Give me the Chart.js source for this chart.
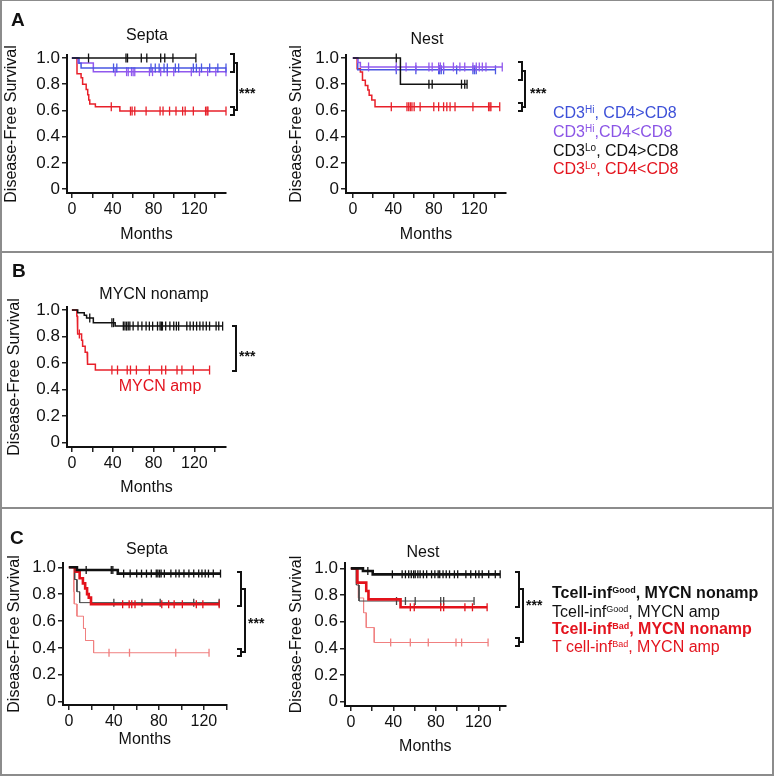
<!DOCTYPE html>
<html><head><meta charset="utf-8">
<script src="https://cdn.jsdelivr.net/npm/chart.js@4.4.1/dist/chart.umd.min.js"></script>
<style>
html,body{margin:0;padding:0;background:#fff;}
#fig{position:relative;width:774px;height:776px;overflow:hidden;background:#fff;font-family:"Liberation Sans",Arial,Helvetica,sans-serif;color:#111;}
.frame{position:absolute;left:0;top:0;width:774px;height:776px;box-sizing:border-box;border:2px solid #8c8c8c;border-top-width:1px;pointer-events:none;}
.sep{position:absolute;left:0;width:774px;height:2px;background:#8c8c8c;}
canvas{position:absolute;}
.t{position:absolute;white-space:nowrap;line-height:1;font-size:16px;}
.c{transform:translate(-50%,-50%);}
.l{transform:translate(0,-50%);}
.b{font-weight:bold;}
.br{position:absolute;box-sizing:border-box;border:2px solid #111;border-left:none;}
sup{font-size:10px;vertical-align:5px;line-height:0;}
.sg sup{font-size:9px;}
</style>
</head><body>
<div id="fig">
  <canvas id="aSepta" width="232" height="250" style="left:0px;top:0px;width:232px;height:250px"></canvas>
  <canvas id="aNest" width="227" height="250" style="left:285px;top:0px;width:227px;height:250px"></canvas>
  <canvas id="bMycn" width="232" height="250" style="left:0px;top:255px;width:232px;height:250px"></canvas>
  <canvas id="cSepta" width="232" height="260" style="left:0px;top:512px;width:232px;height:260px"></canvas>
  <canvas id="cNest" width="226" height="260" style="left:285px;top:512px;width:226px;height:260px"></canvas>

  <div class="sep" style="top:251px"></div>
  <div class="sep" style="top:507px"></div>
  <div class="frame"></div>

  <!-- Panel A -->
  <div class="t l b" style="left:11px;top:19px;font-size:19px">A</div>
  <div class="t c" style="left:147px;top:35px">Septa</div>
  <div class="t c" style="left:427px;top:39px">Nest</div>
  <div class="t l" style="left:553px;top:113px;color:#3d50d8">CD3<sup>Hi</sup>, CD4&gt;CD8</div>
  <div class="t l" style="left:553px;top:132px;color:#8b55e6">CD3<sup>Hi</sup>,CD4&lt;CD8</div>
  <div class="t l" style="left:553px;top:151px;color:#111">CD3<sup>Lo</sup>, CD4&gt;CD8</div>
  <div class="t l" style="left:553px;top:169px;color:#e3141e">CD3<sup>Lo</sup>, CD4&lt;CD8</div>
  <div class="br" style="left:230px;top:53px;width:5px;height:20px"></div>
  <div class="br" style="left:230px;top:106px;width:5px;height:10px"></div>
  <div class="br" style="left:234px;top:62px;width:4px;height:49px"></div>
  <div class="t l b" style="left:239px;top:93px;font-size:14px">***</div>
  <div class="br" style="left:518px;top:61px;width:5px;height:20px"></div>
  <div class="br" style="left:518px;top:102px;width:5px;height:10px"></div>
  <div class="br" style="left:522px;top:70px;width:4px;height:38px"></div>
  <div class="t l b" style="left:530px;top:93px;font-size:14px">***</div>

  <!-- Panel B -->
  <div class="t l b" style="left:12px;top:270px;font-size:19px">B</div>
  <div class="t c" style="left:154px;top:294px">MYCN nonamp</div>
  <div class="t c" style="left:160px;top:386px;color:#e3141e">MYCN amp</div>
  <div class="br" style="left:232px;top:325px;width:5px;height:47px"></div>
  <div class="t l b" style="left:239px;top:356px;font-size:14px">***</div>

  <!-- Panel C -->
  <div class="t l b" style="left:10px;top:537px;font-size:19px">C</div>
  <div class="t c" style="left:147px;top:549px">Septa</div>
  <div class="t c" style="left:423px;top:552px">Nest</div>
  <div class="br" style="left:237px;top:571px;width:5px;height:36px"></div>
  <div class="br" style="left:237px;top:648px;width:5px;height:9px"></div>
  <div class="br" style="left:241px;top:588px;width:5px;height:65px"></div>
  <div class="t l b" style="left:248px;top:623px;font-size:14px">***</div>
  <div class="br" style="left:515px;top:571px;width:5px;height:37px"></div>
  <div class="br" style="left:515px;top:637px;width:5px;height:10px"></div>
  <div class="br" style="left:519px;top:588px;width:5px;height:55px"></div>
  <div class="t l b" style="left:526px;top:605px;font-size:14px">***</div>
  <div class="t l b sg" style="left:552px;top:593px;color:#111">Tcell-inf<sup>Good</sup>, MYCN nonamp</div>
  <div class="t l sg" style="left:552px;top:612px;color:#111">Tcell-inf<sup>Good</sup>, MYCN amp</div>
  <div class="t l b sg" style="left:552px;top:629px;color:#e3141e">Tcell-inf<sup>Bad</sup>, MYCN nonamp</div>
  <div class="t l sg" style="left:552px;top:647px;color:#e3141e">T cell-inf<sup>Bad</sup>, MYCN amp</div>
</div>

<script>
// ---------- shared axis ticks ----------
const xTickValues = [0, 20, 40, 60, 80, 100, 120, 140];
const xTickLabels = [0, 40, 80, 120];
const yTickValues = [0, 0.2, 0.4, 0.6, 0.8, 1.0];

// ---------- Panel A, Septa ----------
const aSeptaLoGtT = [];
const aSeptaLoGtS = [];
const aSeptaLoGtC = [16.3, 53, 54.5, 68, 73.4, 87, 91, 99, 121.5];
const aSeptaHiGtT = [7, 9];
const aSeptaHiGtS = [0.96, 0.924];
const aSeptaHiGtC = [40.8, 44, 77.5, 81.7, 85.5, 90.3, 93.5, 101.4, 104.6, 119, 122, 127, 135, 143, 151];
const aSeptaHiLtT = [6, 21];
const aSeptaHiLtS = [0.962, 0.896];
const aSeptaHiLtC = [42.4, 53.6, 55.2, 58.4, 60, 61.6, 76, 79, 87, 93.5, 99.8, 117, 125, 133, 141, 151];
const aSeptaLoLtT = [5, 9, 10.5, 14, 15.5, 16.5, 17.5, 23, 47];
const aSeptaLoLtS = [0.88, 0.85, 0.80, 0.76, 0.72, 0.68, 0.65, 0.628, 0.595];
const aSeptaLoLtC = [38.6, 57.4, 59, 61.6, 72.7, 86.4, 89.3, 95.7, 102, 108.5, 111, 119, 131, 132.4, 133.3, 151];

// ---------- Panel A, Nest ----------
const aNestLoGtT = [47];
const aNestLoGtS = [0.8];
const aNestLoGtC = [42.9, 75.2, 78.4, 107.4, 110.6, 112.9];
const aNestHiLtT = [4.8, 7.4];
const aNestHiLtS = [0.966, 0.932];
const aNestHiLtC = [15.5, 42.9, 52.6, 62.3, 75.2, 78.4, 84.8, 86.5, 89.7, 99.4, 105.8, 110.6, 118.7, 122, 125, 128, 131.6, 147.7];
const aNestHiGtT = [4.8];
const aNestHiGtS = [0.91];
const aNestHiGtC = [42.9, 62.3, 84.8, 85.8, 87.4, 89.7, 102.6, 118.7, 120.3, 122, 141];
const aNestLoLtT = [4.2, 7.4, 9.5, 12.3, 14.8, 16.1, 18.7, 21.9];
const aNestLoLtS = [0.919, 0.894, 0.83, 0.79, 0.755, 0.716, 0.68, 0.628];
const aNestLoLtC = [38, 53.5, 55.2, 56.8, 58.4, 60.6, 66.5, 80, 84.8, 89.7, 92.9, 96.1, 101, 118.7, 134.2, 135.5, 136.5, 145.2];

// ---------- Panel B ----------
const bNonampT = [5.7, 12.1, 14.4, 21, 42.4];
const bNonampS = [0.98, 0.96, 0.94, 0.905, 0.879];
const bNonampC = [17.5, 39.2, 40.8, 50.4, 52, 53.6, 55.2, 56.8, 60, 64.8, 68.6, 72.7, 75.9, 79.1, 83.9, 86.4, 87.7, 88.7, 91.9, 96, 99.8, 102.4, 104.6, 112.6, 115.8, 119, 122.2, 125.4, 128.5, 131.7, 134.9, 141.3, 143.9, 147.7];
const bAmpT = [4.8, 5.3, 5.8, 9.5, 10.5, 13, 15, 15.5, 23];
const bAmpS = [0.955, 0.909, 0.82, 0.773, 0.727, 0.682, 0.636, 0.591, 0.548];
const bAmpC = [7.3, 39.2, 44.7, 54.2, 57.4, 63.2, 75.9, 88, 91.9, 103, 107.8, 119, 134.9];

// ---------- Panel C, Septa ----------
const cSeptaGoodNonT = [7.2, 43.5];
const cSeptaGoodNonS = [0.98, 0.953];
const cSeptaGoodNonC = [15.4, 37.7, 39.1, 48.7, 54.5, 60.3, 64.6, 69, 73.3, 77.7, 79.1, 80.6, 82, 84.9, 90.7, 95.1, 98, 102.3, 106.7, 111, 115.4, 118.3, 121.2, 124.1, 128.4, 134.8];
const cSeptaGoodAmpT = [5.2, 7.2, 9.6];
const cSeptaGoodAmpS = [0.909, 0.818, 0.737];
const cSeptaGoodAmpC = [40, 65, 81.2, 111, 133.6];
const cSeptaBadNonT = [6.1, 9.6, 12.5, 14.5, 16.2, 17.7, 19.7];
const cSeptaBadNonS = [0.968, 0.918, 0.88, 0.843, 0.80, 0.774, 0.725];
const cSeptaBadNonC = [47.8, 53.6, 55.9, 58.8, 82.6, 88.7, 93.6, 100.9, 113.3, 119.1, 133.6];
const cSeptaBadAmpT = [4.3, 4.5, 4.8, 7.2, 13, 14.8, 22];
const cSeptaBadAmpS = [0.909, 0.818, 0.727, 0.636, 0.545, 0.455, 0.364];
const cSeptaBadAmpC = [35.7, 53.9, 95, 124.6];

// ---------- Panel C, Nest ----------
const cNestGoodNonT = [11.4, 20.6];
const cNestGoodNonS = [0.98, 0.955];
const cNestGoodNonC = [16, 39.1, 48.3, 51.4, 54.5, 56.9, 59.1, 60.6, 63.1, 65.2, 68.3, 71.4, 76, 79.1, 82.2, 83.7, 86.8, 89.8, 92.9, 97.5, 100.6, 108.3, 112.9, 117.5, 120.6, 123.7, 129.8, 136, 140.6];
const cNestGoodAmpT = [5.2, 7.7];
const cNestGoodAmpS = [0.875, 0.755];
const cNestGoodAmpC = [43, 51.4, 60.6, 84.6, 87.4, 116];
const cNestBadNonT = [6.2, 14.5, 16.6, 46.8];
const cNestBadNonS = [0.893, 0.83, 0.767, 0.708];
const cNestBadNonC = [56, 59.7, 84.6, 87.4, 107.4, 114.5, 128.3];
const cNestBadAmpT = [5.2, 7.1, 12, 14.5, 22];
const cNestBadAmpS = [0.889, 0.778, 0.667, 0.556, 0.444];
const cNestBadAmpC = [37.5, 56, 72.9, 99, 104.3, 129.2];

// ---------- helpers ----------
const FONT = '"Liberation Sans", Arial, Helvetica, sans-serif';
function survAt(T, S, t) { let s = 1; T.forEach((ti, i) => { if (ti <= t) s = S[i]; }); return s; }
function curvePts(T, S, C) {
  const end = Math.max(...C, ...T);
  const pts = [{x: 0, y: 1}];
  let prev = 1;
  T.forEach((t, i) => { pts.push({x: t, y: prev}); pts.push({x: t, y: S[i]}); prev = S[i]; });
  pts.push({x: end, y: prev});
  return pts;
}
function series(T, S, C, color, width, tickR) {
  return [
    {data: curvePts(T, S, C), borderColor: color, borderWidth: width, pointRadius: 0, tension: 0, fill: false, clip: false},
    {data: C.map(t => ({x: t, y: survAt(T, S, t)})), showLine: false, pointStyle: 'line', pointRotation: 90,
     pointRadius: tickR, pointBorderColor: color, pointBorderWidth: 1.3, borderColor: color, backgroundColor: color, clip: false}
  ];
}
function makeChart(id, box, area, xr, yr, yTitlePad, xTitlePad, datasets) {
  new Chart(document.getElementById(id), {
    type: 'line',
    data: {datasets: datasets},
    options: {
      responsive: false, animation: false, devicePixelRatio: 1,
      layout: {padding: {left: 0, top: area.t - box.t, right: box.l + box.w - area.r, bottom: 0}},
      plugins: {legend: {display: false}, tooltip: {enabled: false}},
      scales: {
        x: {
          type: 'linear', min: xr[0], max: xr[1],
          afterFit: s => { s.height = box.t + box.h - area.b; },
          afterBuildTicks: s => { s.ticks = xTickValues.map(v => ({value: v})); },
          ticks: {callback: v => xTickLabels.includes(v) ? String(v) : '', font: {family: FONT, size: 16}, color: '#111', padding: 2, maxRotation: 0, autoSkip: false},
          grid: {drawOnChartArea: false, drawTicks: true, tickLength: 5, color: '#222', lineWidth: 1.5},
          border: {display: true, color: '#111', width: 2},
          title: {display: true, text: 'Months', font: {family: FONT, size: 16}, color: '#111', padding: {top: 0, bottom: xTitlePad}}
        },
        y: {
          type: 'linear', min: yr[0], max: yr[1],
          afterFit: s => { s.width = area.l - box.l; },
          afterBuildTicks: s => { s.ticks = yTickValues.map(v => ({value: v})); },
          ticks: {callback: v => v === 0 ? '0' : v.toFixed(1), font: {family: FONT, size: 17}, color: '#111', padding: 2, autoSkip: false},
          grid: {drawOnChartArea: false, drawTicks: true, tickLength: 5, color: '#222', lineWidth: 1.5},
          border: {display: true, color: '#111', width: 2},
          title: {display: true, text: 'Disease-Free Survival', font: {family: FONT, size: 16}, color: '#111', padding: {top: yTitlePad, bottom: 0}}
        }
      }
    }
  });
}

const BLUE = '#4a57e2', PURPLE = '#9058ee', RED = '#e8202a', BLACK = '#111111';
const CRED = '#e3121b', PINK = '#f08080', THIN = '#444444';

makeChart('aSepta', {l: 0, t: 0, w: 232, h: 250}, {l: 67, t: 55, r: 230, b: 193}, [-4.8, 151.2], [-0.03, 1.023], 2.4, 5.4, [
  ...series(aSeptaLoGtT, aSeptaLoGtS, aSeptaLoGtC, BLACK, 1.5, 4.5),
  ...series(aSeptaHiGtT, aSeptaHiGtS, aSeptaHiGtC, BLUE, 1.5, 4.5),
  ...series(aSeptaHiLtT, aSeptaHiLtS, aSeptaHiLtC, PURPLE, 1.5, 4.5),
  ...series(aSeptaLoLtT, aSeptaLoLtS, aSeptaLoLtC, RED, 1.5, 4.5)
]);
makeChart('aNest', {l: 285, t: 0, w: 227, h: 250}, {l: 346, t: 55, r: 510, b: 193}, [-6.8, 151.6], [-0.03, 1.023], 2.4, 5.4, [
  ...series(aNestLoGtT, aNestLoGtS, aNestLoGtC, BLACK, 1.5, 4.5),
  ...series(aNestHiLtT, aNestHiLtS, aNestHiLtC, PURPLE, 1.5, 4.5),
  ...series(aNestHiGtT, aNestHiGtS, aNestHiGtC, BLUE, 1.5, 4.5),
  ...series(aNestLoLtT, aNestLoLtS, aNestLoLtC, RED, 1.5, 4.5)
]);
makeChart('bMycn', {l: 0, t: 255, w: 232, h: 250}, {l: 67, t: 307, r: 230, b: 447}, [-4.8, 151.2], [-0.032, 1.023], 5.4, 7.4, [
  ...series(bNonampT, bNonampS, bNonampC, BLACK, 1.5, 4.5),
  ...series(bAmpT, bAmpS, bAmpC, RED, 1.5, 4.5)
]);
makeChart('cSepta', {l: 0, t: 512, w: 232, h: 260}, {l: 63, t: 563, r: 230, b: 705}, [-5.2, 140.3], [-0.025, 1.032], 5.4, 22.4, [
  ...series(cSeptaGoodNonT, cSeptaGoodNonS, cSeptaGoodNonC, BLACK, 2.6, 4),
  ...series(cSeptaBadNonT, cSeptaBadNonS, cSeptaBadNonC, CRED, 2.6, 4),
  ...series(cSeptaGoodAmpT, cSeptaGoodAmpS, cSeptaGoodAmpC, THIN, 1, 4),
  ...series(cSeptaBadAmpT, cSeptaBadAmpS, cSeptaBadAmpC, PINK, 1, 4)
]);
makeChart('cNest', {l: 285, t: 512, w: 226, h: 260}, {l: 345, t: 563, r: 509, b: 706}, [-5.5, 145.8], [-0.032, 1.04], 2.4, 15.4, [
  ...series(cNestGoodNonT, cNestGoodNonS, cNestGoodNonC, BLACK, 2.6, 4),
  ...series(cNestBadNonT, cNestBadNonS, cNestBadNonC, CRED, 2.6, 4),
  ...series(cNestGoodAmpT, cNestGoodAmpS, cNestGoodAmpC, THIN, 1, 4),
  ...series(cNestBadAmpT, cNestBadAmpS, cNestBadAmpC, PINK, 1, 4)
]);
</script>
</body></html>
